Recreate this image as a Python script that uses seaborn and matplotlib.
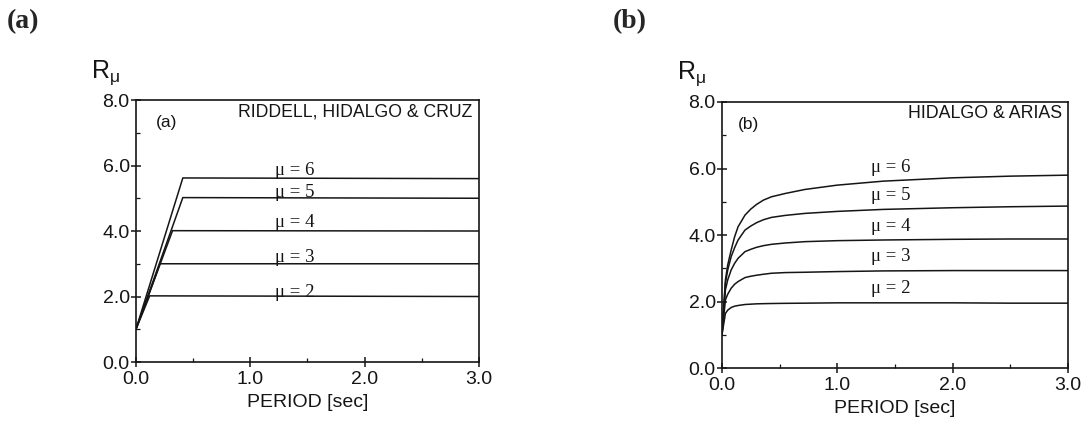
import numpy as np
import pandas as pd
import matplotlib
matplotlib.use("Agg")
import matplotlib.pyplot as plt
import seaborn as sns
from matplotlib.ticker import MultipleLocator, FormatStrFormatter

# ---------------- data ----------------
mu_values = [2, 3, 4, 5, 6]

# Panel (a): Riddell, Hidalgo & Cruz (bilinear)
a_period = {2: [0.0, 0.12, 3.0], 3: [0.0, 0.21, 3.0], 4: [0.0, 0.32, 3.0],
            5: [0.0, 0.41, 3.0], 6: [0.0, 0.41, 3.0]}
a_R = {2: [1.0, 2.02, 2.0], 3: [1.0, 3.0, 3.0], 4: [1.0, 4.01, 4.0],
       5: [1.0, 5.02, 5.0], 6: [1.0, 5.62, 5.6]}

# Panel (b): Hidalgo & Arias
b_period = [0.0, 0.03, 0.05, 0.08, 0.11, 0.14, 0.2, 0.25, 0.3, 0.36, 0.43,
            0.55, 0.72, 1.0, 1.4, 2.0, 2.5, 3.0]
b_R = {
    2: [1.0, 1.64, 1.74, 1.82, 1.86, 1.88, 1.91, 1.92, 1.93, 1.935, 1.94,
        1.945, 1.95, 1.96, 1.96, 1.96, 1.95, 1.95],
    3: [1.0, 2.05, 2.22, 2.40, 2.52, 2.60, 2.72, 2.76, 2.79, 2.82, 2.85,
        2.87, 2.88, 2.90, 2.92, 2.93, 2.93, 2.93],
    4: [1.0, 2.35, 2.65, 2.95, 3.15, 3.30, 3.50, 3.57, 3.63, 3.68, 3.72,
        3.76, 3.80, 3.83, 3.85, 3.87, 3.88, 3.88],
    5: [1.0, 2.55, 2.95, 3.35, 3.62, 3.85, 4.15, 4.27, 4.37, 4.46, 4.53,
        4.59, 4.65, 4.71, 4.77, 4.82, 4.85, 4.87],
    6: [1.0, 2.65, 3.10, 3.55, 3.95, 4.25, 4.60, 4.78, 4.92, 5.05, 5.15,
        5.25, 5.37, 5.50, 5.62, 5.72, 5.77, 5.80],
}

a_label_x = 1.39
a_label_y = {2: 2.11, 3: 3.19, 4: 4.26, 5: 5.17, 6: 5.86}
b_label_x = 1.46
b_label_y = {2: 2.40, 3: 3.35, 4: 4.25, 5: 5.20, 6: 6.04}

x_ticks = [0.0, 1.0, 2.0, 3.0]
y_ticks = [0.0, 2.0, 4.0, 6.0, 8.0]

# ---------------- style ----------------
sns.set_style("ticks")
plt.rcParams["font.family"] = ["Liberation Sans", "DejaVu Sans"]
plt.rcParams["mathtext.default"] = "regular"

fig = plt.figure(figsize=(10.85, 4.25), dpi=100)
ax_a = fig.add_axes([0.1253, 0.1482, 0.3161, 0.6165])
ax_b = fig.add_axes([0.6654, 0.1341, 0.3189, 0.6259])

ink = "#151515"

rows = []
for m in mu_values:
    for t, r in zip(a_period[m], a_R[m]):
        rows.append({"panel": "a", "mu": m, "T": t, "R": r})
    for t, r in zip(b_period, b_R[m]):
        rows.append({"panel": "b", "mu": m, "T": t, "R": r})
df = pd.DataFrame(rows)

pal = {m: ink for m in mu_values}
sns.lineplot(data=df[df.panel == "a"], x="T", y="R", hue="mu", palette=pal,
             legend=False, ax=ax_a, lw=1.1, sort=False, estimator=None)
sns.lineplot(data=df[df.panel == "b"], x="T", y="R", hue="mu", palette=pal,
             legend=False, ax=ax_b, lw=1.1, sort=False, estimator=None)

for ax, lx, ly in [(ax_a, a_label_x, a_label_y), (ax_b, b_label_x, b_label_y)]:
    ax.set_xlim(0, 3.0)
    ax.set_ylim(0, 8.0)
    ax.set_xticks(x_ticks)
    ax.set_yticks(y_ticks)
    ax.xaxis.set_major_formatter(FormatStrFormatter("%.1f"))
    ax.yaxis.set_major_formatter(FormatStrFormatter("%.1f"))
    ax.xaxis.set_minor_locator(MultipleLocator(0.5))
    ax.yaxis.set_minor_locator(MultipleLocator(1.0))
    ax.tick_params(which="major", direction="inout", length=7, width=1.1,
                   labelsize=14, colors=ink, pad=1)
    ax.tick_params(which="minor", direction="in", length=3, width=0.9, colors=ink)
    ax.tick_params(axis="x", which="major", pad=3)
    for s in ax.spines.values():
        s.set_visible(True)
        s.set_linewidth(1.2)
        s.set_color(ink)
    ax.set_xlabel("PERIOD [sec]", fontsize=14, color=ink, labelpad=4)
    ax.set_ylabel("")
    ax.text(-0.13, 1.105, "R$_μ$", transform=ax.transAxes, fontsize=18,
            ha="left", va="center", color=ink)
    for m in mu_values:
        ax.text(lx, ly[m], f"μ = {m}", fontsize=13.5, ha="center", va="center",
                color=ink, family=["Liberation Serif", "DejaVu Serif"])

ax_a.text(0.982, 0.955, "RIDDELL, HIDALGO & CRUZ", transform=ax_a.transAxes,
          fontsize=12.7, ha="right", va="center", color=ink)
ax_a.text(0.058, 0.914, "(a)", transform=ax_a.transAxes, fontsize=12.5,
          ha="left", va="center", color=ink)
ax_b.text(0.982, 0.957, "HIDALGO & ARIAS", transform=ax_b.transAxes,
          fontsize=12.8, ha="right", va="center", color=ink)
ax_b.text(0.046, 0.914, "(b)", transform=ax_b.transAxes, fontsize=12.5,
          ha="left", va="center", color=ink)

fig.text(0.0065, 0.948, "(a)", fontsize=20, fontweight="bold",
         family=["Liberation Serif", "DejaVu Serif"], ha="left", va="center")
fig.text(0.565, 0.948, "(b)", fontsize=20, fontweight="bold",
         family=["Liberation Serif", "DejaVu Serif"], ha="left", va="center")

fig.savefig("out.png", dpi=100, facecolor="white")
